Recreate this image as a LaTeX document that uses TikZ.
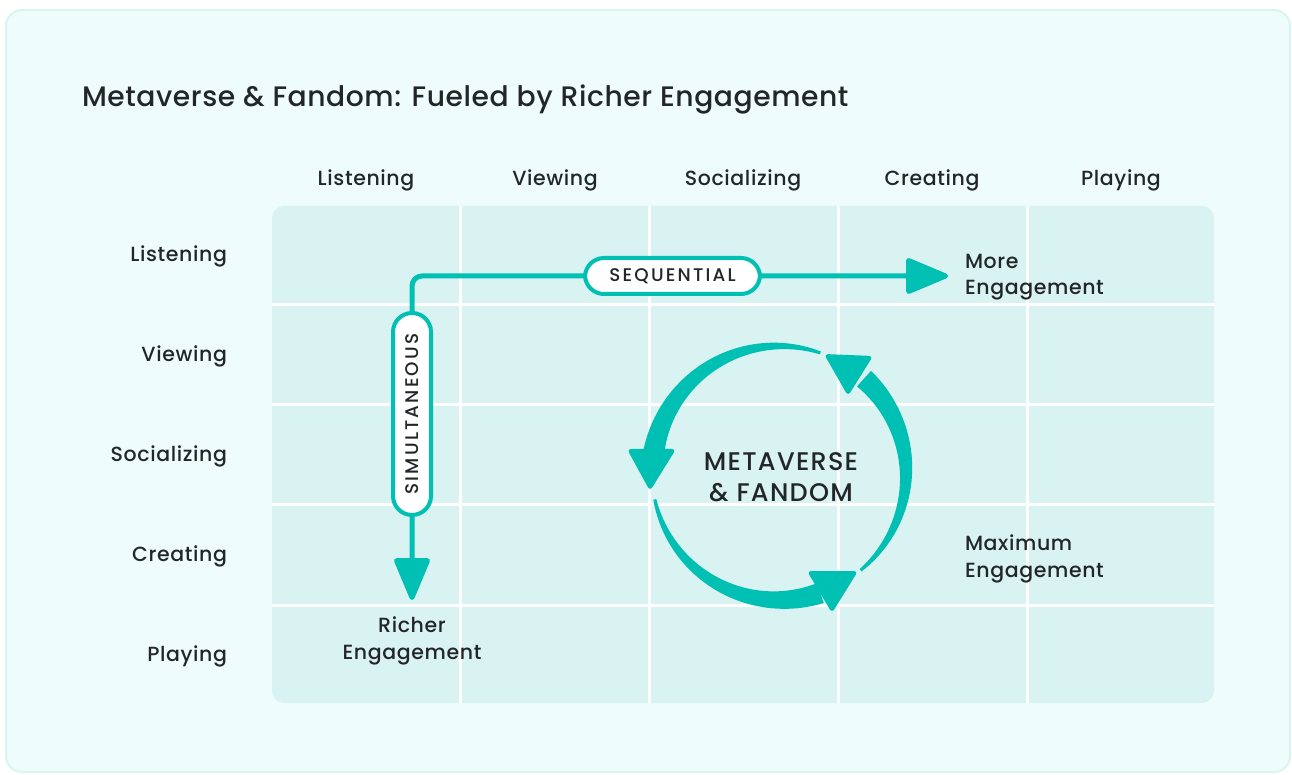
\documentclass[tikz,border=0pt]{standalone}
\usepackage{fontspec}
\setmainfont{Poppins Medium}[LetterSpace=3]
\newfontfamily\titlefont{Poppins Medium}[LetterSpace=2]
\newfontfamily\capsfont{Poppins Medium}[LetterSpace=12]
\newfontfamily\hubfont{Poppins Medium}[LetterSpace=5]
\usetikzlibrary{arrows.meta, positioning}
\definecolor{mfteal}{RGB}{0,191,179}
\definecolor{panel}{RGB}{238,253,252}
\definecolor{panelline}{RGB}{218,244,242}
\definecolor{cell}{RGB}{216,243,241}
\definecolor{ink}{RGB}{35,38,40}
\newcommand\taperarc[2]{%
\fill[mfteal] plot[domain=#1:#2,samples=50] ({779+(128.5+9*(\x-#1)/(#2-#1))*cos(\x)},{301+(128.5+9*(\x-#1)/(#2-#1))*sin(\x)})
 -- plot[domain=#2:#1,samples=50] ({779+(125.5-9*(\x-#1)/(#2-#1))*cos(\x)},{301+(125.5-9*(\x-#1)/(#2-#1))*sin(\x)}) -- cycle;}
\begin{document}
\begin{tikzpicture}[x=1pt, y=1pt, node distance=1pt, outer sep=0pt]

\tikzstyle{lbl}=[font=\fontsize{20.5}{26.5}\selectfont, text=ink, inner sep=0pt]
\tikzstyle{rowlbl}=[lbl, anchor=east]
\tikzstyle{pill}=[draw=mfteal, line width=4pt, fill=white, rounded corners=19pt, inner sep=0pt, font=\capsfont\fontsize{18.3}{18.3}\selectfont, text=ink]
\tikzstyle{flow}=[draw=mfteal, line width=5pt, rounded corners=10pt]
\tikzstyle{tip}=[fill=mfteal, rounded corners=4pt]

\fill[white] (0,0) rectangle (1292,774);
\useasboundingbox (0,0) rectangle (1292,774);
\filldraw[fill=panel, draw=panelline, line width=2pt, rounded corners=16pt] (6,2) rectangle (1290,764);

\node[anchor=base west, font=\titlefont\fontsize{28.2}{28.2}\selectfont, text=ink, inner sep=0pt] (title) at (82,667) {Metaverse \& Fandom: Fueled by Richer Engagement};

\fill[cell, rounded corners=12pt] (272,71) rectangle (1214,568);
\foreach \x in {460.5,649.5,838.5,1027.5} \draw[white, line width=3pt] (\x,71) -- (\x,568);
\foreach \y in {469,369,269,169} \draw[white, line width=3pt] (272,\y) -- (1214,\y);

\node[lbl] (colListen) at (366,594) {Listening};
\node[lbl] (colView) at (555,594) {Viewing};
\node[lbl] (colSocial) at (743,594) {Socializing};
\node[lbl] (colCreate) at (932,594) {Creating};
\node[lbl] (colPlay) at (1121,594) {Playing};

\node[rowlbl] (rowListen) at (227,518) {Listening};
\node[rowlbl] (rowView) at (227,418) {Viewing};
\node[rowlbl] (rowSocial) at (227,318) {Socializing};
\node[rowlbl] (rowCreate) at (227,218) {Creating};
\node[rowlbl] (rowPlay) at (227,118) {Playing};

\coordinate (richtip) at (412,174);
\coordinate (bend) at (412,498);
\coordinate (moretip) at (948,498);
\draw[flow, {Triangle[length=46pt,width=37pt,round]}-{Triangle[length=46pt,width=37pt,round]}] (richtip) -- (bend) -- (moretip);

\node[pill, minimum width=175pt, minimum height=36pt] (seq) at (672.5,498) {SEQUENTIAL};
\node[pill, minimum width=202pt, minimum height=38pt, rotate=90] (simul) at (412,360) {SIMULTANEOUS};

\node[lbl, anchor=west, align=left] (more) at (965,497) {More\\Engagement};
\node[lbl, anchor=west, align=left] (maxeng) at (965,215) {Maximum\\Engagement};
\node[lbl, align=center] (richer) at (412,133) {Richer\\Engagement};

\taperarc{71}{170}
\taperarc{192}{289}
\taperarc{310}{408}
\fill[tip] (627,325) -- (676,325) -- (650,283) -- cycle;
\fill[tip] (807,203) -- (858,203) -- (832,161) -- cycle;
\fill[tip] (824,420) -- (873,418) -- (848,378) -- cycle;

\node[align=center, font=\hubfont\fontsize{25.5}{31}\selectfont, text=ink, inner sep=0pt] (hub) at (781,297) {METAVERSE\\\& FANDOM};
\end{tikzpicture}
\end{document}
